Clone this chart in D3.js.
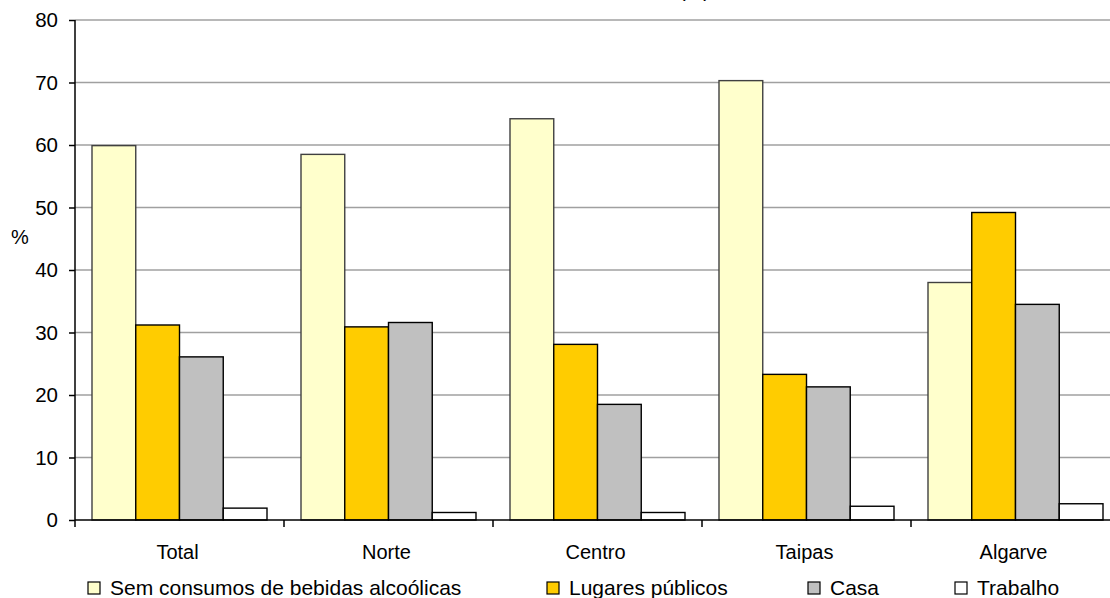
<!DOCTYPE html>
<html><head><meta charset="utf-8">
<script src="https://cdn.jsdelivr.net/npm/d3@7"></script>
<style>body{margin:0;background:#fff}svg{display:block;font-family:"Liberation Sans",Arial,sans-serif}</style>
</head><body><svg id="c" width="1110" height="598"></svg>
<script>
const categories = ["Total","Norte","Centro","Taipas","Algarve"];
const seriesNames = ["Sem consumos de bebidas alcoólicas","Lugares públicos","Casa","Trabalho"];
const semConsumo = [59.9, 58.5, 64.2, 70.3, 38.0];
const lugaresPublicos = [31.2, 30.9, 28.1, 23.3, 49.2];
const casa = [26.1, 31.6, 18.5, 21.3, 34.5];
const trabalho = [1.9, 1.2, 1.2, 2.2, 2.6];
const yTicks = [0,10,20,30,40,50,60,70,80];
const colors = ["#FFFFCC","#FFCC00","#C0C0C0","#FFFFFF"];
const strokes = ["#404040","#000","#000","#000"];
const seriesValues = [semConsumo, lugaresPublicos, casa, trabalho];

const svg = d3.select("#c");
const x0 = d3.scaleBand().domain(categories).range([75, 1120]).padding(0);
const x1 = d3.scaleBand().domain(d3.range(4)).range([17, x0.bandwidth()-17]).padding(0);
const y = d3.scaleLinear().domain([0,80]).range([520,20]);

// title fragment (cut off at top in the reference)
svg.append("text").attr("x",710).attr("y",-3).attr("text-anchor","end")
  .attr("font-size",20).text("(%)");

// gridlines
svg.append("g").selectAll("line").data(yTicks.filter(d=>d>0)).join("line")
  .attr("x1",75).attr("x2",1120).attr("y1",d=>y(d)).attr("y2",d=>y(d))
  .attr("stroke","#a0a0a0").attr("stroke-width",1.5);

// bars
const g = svg.append("g");
categories.forEach((c,ci)=>{
  seriesValues.forEach((vals,si)=>{
    g.append("rect")
      .attr("x", x0(c)+x1(si)).attr("width", x1.bandwidth())
      .attr("y", y(vals[ci])).attr("height", y(0)-y(vals[ci]))
      .attr("fill", colors[si]).attr("stroke", strokes[si]).attr("stroke-width",1.4);
  });
});

// y axis
const ya = svg.append("g").attr("transform","translate(75,0)")
  .call(d3.axisLeft(y).tickValues(yTicks).tickSize(6).tickPadding(11));
ya.select(".domain").attr("stroke","#000").attr("stroke-width",1.5).attr("d","M0,20V527");
ya.selectAll(".tick line").attr("stroke","#000").attr("stroke-width",1.5);
ya.selectAll("text").attr("font-size",20.5).attr("fill","#000").attr("font-family","Liberation Sans, Arial, sans-serif");

// x axis
svg.append("line").attr("x1",75).attr("x2",1120).attr("y1",520).attr("y2",520)
  .attr("stroke","#000").attr("stroke-width",1.5);
svg.append("g").selectAll("line").data(categories.slice(1)).join("line")
  .attr("x1",d=>x0(d)).attr("x2",d=>x0(d)).attr("y1",520).attr("y2",527)
  .attr("stroke","#000").attr("stroke-width",1.5);
svg.append("g").selectAll("text").data(categories).join("text")
  .attr("x",d=>x0(d)+x0.bandwidth()/2-2).attr("y",559).attr("text-anchor","middle")
  .attr("font-size",20).text(d=>d);

// y label
svg.append("text").attr("x",20).attr("y",244).attr("text-anchor","middle").attr("font-size",20).text("%");

// legend
const legX = [88, 547, 808, 955];
const leg = svg.append("g");
seriesNames.forEach((n,i)=>{
  leg.append("rect").attr("x",legX[i]).attr("y",582).attr("width",12).attr("height",12)
    .attr("fill",colors[i]).attr("stroke","#000").attr("stroke-width",1.2);
  leg.append("text").attr("x",legX[i]+22).attr("y",595).attr("font-size",21).text(n);
});
</script></body></html>
